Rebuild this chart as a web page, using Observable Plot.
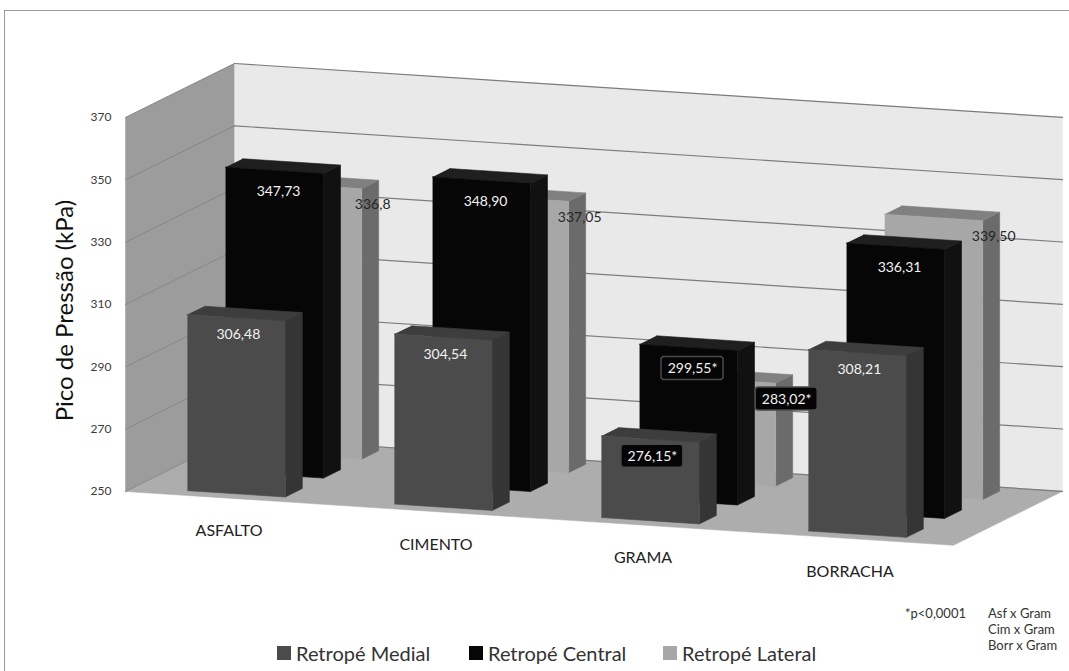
<!DOCTYPE html>
<html>
<head>
<meta charset="utf-8">
<script src="https://cdn.jsdelivr.net/npm/d3@7"></script>
<script src="https://cdn.jsdelivr.net/npm/@observablehq/plot@0.6"></script>
<style>
  html, body { margin: 0; padding: 0; background: #fff; }
  body { position: relative; width: 1069px; height: 671px; overflow: hidden; font-family: Lato, "Open Sans", sans-serif; color: #333; }
  #frame { position: absolute; left: 4px; top: 10px; width: 1200px; height: 800px; border-left: 1px solid #9a9a9a; border-top: 1px solid #9a9a9a; }
  #chart { position: absolute; left: 0; top: 0; }
  .legend-item { position: absolute; top: 641px; height: 24px; display: flex; align-items: center; font-size: 20px; color: #333; white-space: nowrap; }
  .legend-item .sw { width: 14px; height: 14px; margin-right: 5px; }
  #pnote { position: absolute; top: 605px; right: 103px; font-size: 13px; line-height: 17px; color: #333; }
  #pairs { position: absolute; top: 605px; left: 988px; font-size: 13px; line-height: 16px; color: #333; white-space: nowrap; }
</style>
</head>
<body>
<div id="frame"></div>
<div id="chart"></div>
<div id="legend"></div>
<div id="pnote">*p&lt;0,0001</div>
<div id="pairs">Asf x Gram<br>Cim x Gram<br>Borr x Gram</div>
<script>
// Peak plantar pressure (kPa) under the heel, by surface
const categories = ["ASFALTO", "CIMENTO", "GRAMA", "BORRACHA"];
const medial  = [306.48, 304.54, 276.15, 308.21];   // Retropé Medial
const central = [347.73, 348.90, 299.55, 336.31];   // Retropé Central
const lateral = [336.8, 337.05, 283.02, 339.50];    // Retropé Lateral
const decimals = { medial: [2, 2, 2, 2], central: [2, 2, 2, 2], lateral: [1, 2, 2, 2] };
const significant = [false, false, true, false];     // surface differs at p<0,0001
const yTicks = [250, 270, 290, 310, 330, 350, 370];
const yTitle = "Pico de Pressão (kPa)";
const legendNames = ["Retropé Medial", "Retropé Central", "Retropé Lateral"];

// ---- oblique 3D projection expressed in data units ----
const W = 1069, H = 600;
const marginLeft = 125, marginRight = 116, marginTop = 117, marginBottom = 109;
const yBase = yTicks[0], yTop = yTicks[yTicks.length - 1];
const catPx = (W - marginLeft - marginRight) / categories.length;     // px per category
const ppu = (H - marginTop - marginBottom) / (yTop - yBase);          // px per kPa
const DEPTH_X = 109 / catPx;          // full depth, horizontal shift (category units)
const DEPTH_Y = 54 / ppu;             // full depth, vertical rise (kPa units)
const SKEW = 0.065 * catPx / ppu;     // floor tilt along the category axis
const P = (u, d, v) => ({ x: u + d * DEPTH_X, y: v - SKEW * u + d * DEPTH_Y });

const BAR_OFFSET = 0.257, BAR_WIDTH = 0.473, BAR_DEPTH = 0.156;

const fmt = (v, n) => v.toFixed(n).replace(".", ",");

// drawn back row first
const series = [
  { key: "lateral", values: lateral, depth: 0.78, front: "#a7a7a7", top: "#808080", side: "#6b6b6b",
    labelFill: "#262626", dx: 60, dy: 19 },
  { key: "central", values: central, depth: 0.43, front: "#060606", top: "#1f1f1f", side: "#111111",
    labelFill: "#f2f2f2", dx: 4, dy: 21 },
  { key: "medial", values: medial, depth: 0.08, front: "#4b4b4b", top: "#3d3d3d", side: "#353535",
    labelFill: "#f2f2f2", dx: 2, dy: 17 }
];

function poly(id, pts) {
  return pts.map(([u, d, v]) => ({ id, ...P(u, d, v) }));
}

// walls and floor
const leftWall = poly("left", [[0, 0, yBase], [0, 0, yTop], [0, 1, yTop], [0, 1, yBase]]);
const backWall = poly("back", [[0, 1, yBase], [4, 1, yBase], [4, 1, yTop], [0, 1, yTop]]);
const floorPlane = poly("floor", [[0, 0, yBase], [4, 0, yBase], [4, 1, yBase], [0, 1, yBase]]);
const leftGrid = yTicks.flatMap(v => poly("L" + v, [[0, 0, v], [0, 1, v]]));
const backGrid = yTicks.flatMap(v => poly("B" + v, [[0, 1, v], [4, 1, v]]));

const marks = [
  Plot.line(leftWall, { x: "x", y: "y", z: "id", fill: "#9c9c9c", stroke: "#9c9c9c", strokeWidth: 0.5 }),
  Plot.line(backWall, { x: "x", y: "y", z: "id", fill: "#e9e9e9", stroke: "#e9e9e9", strokeWidth: 0.5 }),
  Plot.line(floorPlane, { x: "x", y: "y", z: "id", fill: "#adadad", stroke: "#adadad", strokeWidth: 0.5 }),
  Plot.line(leftGrid, { x: "x", y: "y", z: "id", stroke: "#878787", strokeWidth: 1 }),
  Plot.line(backGrid, { x: "x", y: "y", z: "id", stroke: "#7c7c7c", strokeWidth: 1.2 })
];

const labels = [];
for (const s of series) {
  const faces = { side: [], top: [], front: [] };
  s.values.forEach((v, i) => {
    const u0 = i + BAR_OFFSET, u1 = u0 + BAR_WIDTH, d0 = s.depth, d1 = d0 + BAR_DEPTH;
    const id = `${s.key}-${i}`;
    faces.side.push(...poly(id, [[u1, d0, yBase], [u1, d1, yBase], [u1, d1, v], [u1, d0, v]]));
    faces.top.push(...poly(id, [[u0, d0, v], [u1, d0, v], [u1, d1, v], [u0, d1, v]]));
    faces.front.push(...poly(id, [[u0, d0, yBase], [u1, d0, yBase], [u1, d0, v], [u0, d0, v]]));
    labels.push({
      ...P((u0 + u1) / 2, d0, v),
      key: s.key,
      text: fmt(v, decimals[s.key][i]) + (significant[i] ? "*" : ""),
      star: significant[i], fill: significant[i] ? "#f2f2f2" : s.labelFill
    });
  });
  for (const face of ["side", "top", "front"]) {
    marks.push(Plot.line(faces[face], { x: "x", y: "y", z: "id", fill: s[face], stroke: s[face], strokeWidth: 0.6 }));
  }
}

// value labels (boxed when significant)
const BOX_HW = 31 / catPx, BOX_HH = 11.5 / ppu;
for (const s of series) {
  const own = labels.filter(l => l.key === s.key);
  marks.push(Plot.rect(own.filter(l => l.star), {
    x1: d => d.x - BOX_HW, x2: d => d.x + BOX_HW, y1: d => d.y - BOX_HH, y2: d => d.y + BOX_HH,
    dx: s.dx, dy: s.dy, fill: "#050505", stroke: "#4a4a4a", strokeWidth: 1.5, rx: 3
  }));
  marks.push(Plot.text(own, {
    x: "x", y: "y", text: "text", fill: "fill", dx: s.dx, dy: s.dy, fontSize: 14
  }));
}

// category labels under the floor
marks.push(Plot.text(categories.map((c, i) => ({ c, ...P(i + 0.5, 0, yBase) })), {
  x: "x", y: "y", text: "c", dy: 33, fontSize: 16, fill: "#222"
}));

// value axis on the left wall
marks.push(Plot.axisY(yTicks, { tickSize: 0, tickPadding: 14, fontSize: 12, color: "#3a3a3a", label: null, tickFormat: d => String(d) }));
marks.push(Plot.text([yTitle], {
  text: d => d, frameAnchor: "left", textAnchor: "middle", rotate: -90, dx: -60, dy: 6, fontSize: 24, fill: "#111"
}));

const chart = Plot.plot({
  width: W, height: H, marginLeft, marginRight, marginTop, marginBottom,
  x: { type: "linear", domain: [0, categories.length], axis: null },
  y: { type: "linear", domain: [yBase, yTop] },
  style: { fontFamily: "Lato, 'Open Sans', sans-serif", background: "transparent", overflow: "visible" },
  marks
});
document.getElementById("chart").appendChild(chart);

// legend below the chart
const swatches = ["#4b4b4b", "#060606", "#a7a7a7"];
const lefts = [277, 469, 663];
const legend = document.getElementById("legend");
legendNames.forEach((name, i) => {
  const item = document.createElement("div");
  item.className = "legend-item";
  item.style.left = lefts[i] + "px";
  item.innerHTML = `<span class="sw" style="background:${swatches[i]}"></span><span>${name}</span>`;
  legend.appendChild(item);
});
</script>
</body>
</html>
